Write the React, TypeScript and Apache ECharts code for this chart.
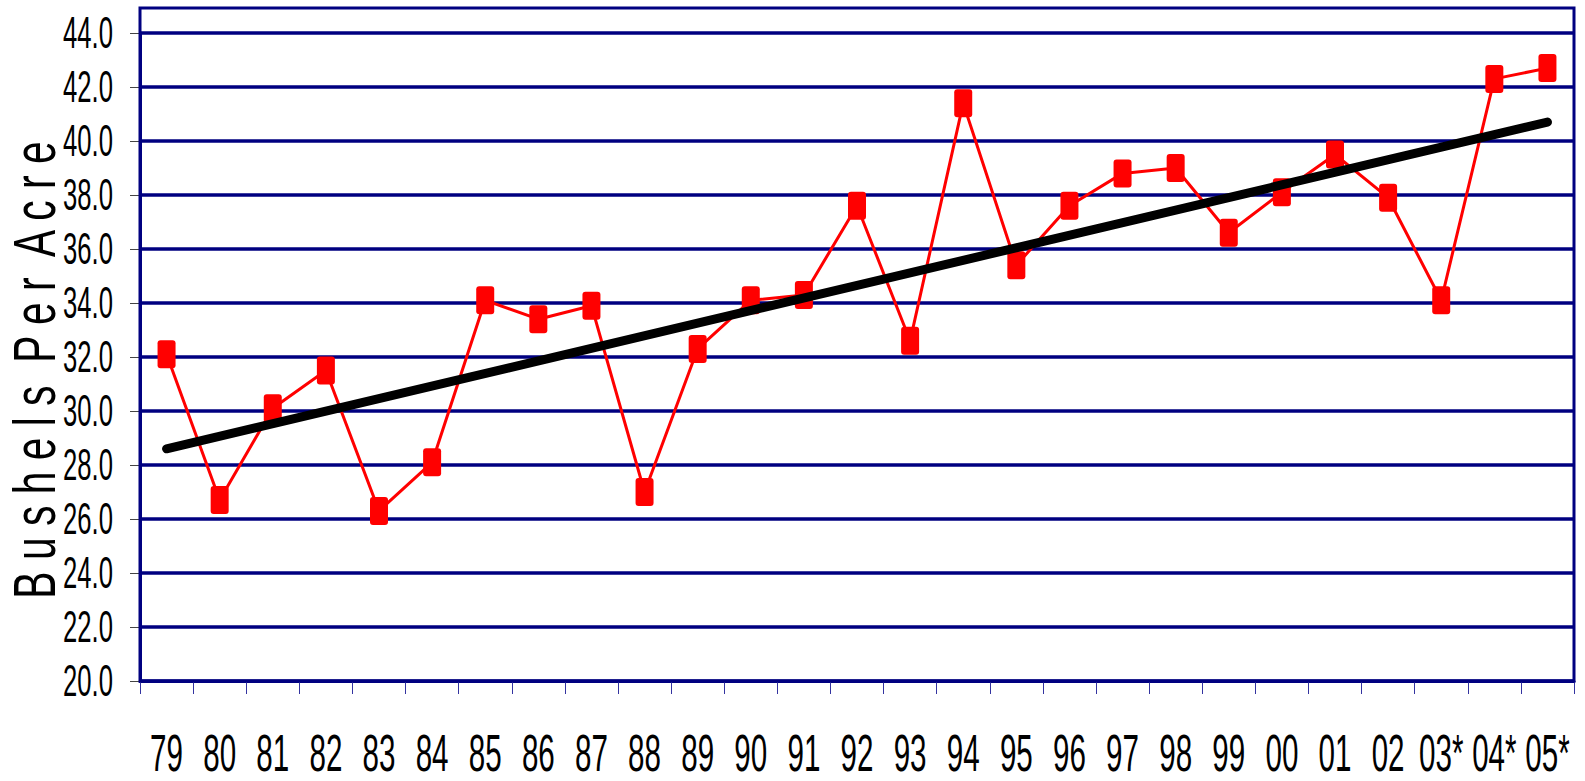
import React, { useEffect, useRef } from 'react';
import * as echarts from 'echarts';

const years = ['79', '80', '81', '82', '83', '84', '85', '86', '87', '88', '89', '90', '91', '92', '93', '94', '95', '96', '97', '98', '99', '00', '01', '02', '03*', '04*', '05*'];
const yields = [32.1, 26.7, 30.1, 31.5, 26.3, 28.1, 34.1, 33.4, 33.9, 27.0, 32.3, 34.1, 34.3, 37.6, 32.6, 41.4, 35.4, 37.6, 38.8, 39.0, 36.6, 38.1, 39.5, 37.9, 34.1, 42.3, 42.7];
const trendValues = [28.6, 40.7];
const yTicks = [20, 22, 24, 26, 28, 30, 32, 34, 36, 38, 40, 42, 44];
const yAxisTitle = 'B u s h e l s  P e r  A c r e';

const NAVY = '#000080';
const FONT = 'Liberation Sans, Arial, sans-serif';
const MARKER = 'path://M3,0 H15 Q18,0 18,3 V25 Q18,28 15,28 H3 Q0,28 0,25 V3 Q0,0 3,0 Z';

export default function App() {
  const ref = useRef<HTMLDivElement>(null);
  useEffect(() => {
    const chart = echarts.init(ref.current!, null, { renderer: 'svg' });
    const gridLeft = 140;
    const gridRight = 11;
    const gridTop = 33;
    const gridBottom = 100;
    chart.setOption({
      animation: false,
      backgroundColor: '#ffffff',
      grid: { left: gridLeft, right: gridRight, top: gridTop, bottom: gridBottom },
      xAxis: {
        type: 'category',
        data: years,
        boundaryGap: true,
        axisLine: { show: true, onZero: false, lineStyle: { color: NAVY, width: 3 } },
        axisTick: { show: true, length: 13, lineStyle: { color: '#3333a0', width: 1 } },
        axisLabel: { show: false },
        splitLine: { show: false },
      },
      yAxis: {
        type: 'value',
        min: 20,
        max: 44,
        interval: 2,
        axisLine: { show: true, lineStyle: { color: NAVY, width: 3 } },
        axisTick: { show: true, length: 10, lineStyle: { color: '#444444', width: 1 } },
        axisLabel: { show: false },
        splitLine: { show: true, lineStyle: { color: NAVY, width: 3.5 } },
      },
      series: [
        {
          type: 'line',
          data: yields,
          symbol: MARKER,
          symbolSize: [18, 28],
          itemStyle: { color: '#ff0000' },
          lineStyle: { color: '#ff0000', width: 3 },
          z: 3,
        },
        {
          type: 'line',
          data: [[years[0], trendValues[0]], [years[years.length - 1], trendValues[1]]],
          symbol: 'none',
          lineStyle: { color: '#000000', width: 9, cap: 'round' },
          z: 4,
        },
      ],
    });

    const W = chart.getWidth();
    const H = chart.getHeight();
    const graphics: any[] = [];
    graphics.push({
      type: 'rect',
      silent: true,
      shape: { x: gridLeft, y: 8, width: W - gridLeft - gridRight, height: H - gridBottom - 8 },
      style: { fill: 'none', stroke: NAVY, lineWidth: 3 },
      z: 1,
    });
    years.forEach((y) => {
      const px = chart.convertToPixel({ xAxisIndex: 0 }, y) as number;
      graphics.push({
        type: 'text',
        silent: true,
        x: px,
        y: 753,
        scaleX: 0.58,
        style: {
          text: y,
          fontSize: 51,
          fontFamily: FONT,
          fill: '#000',
          align: 'center',
          verticalAlign: 'middle',
          textAlign: 'center',
          textVerticalAlign: 'middle',
        },
      });
    });
    yTicks.forEach((v) => {
      const py = chart.convertToPixel({ yAxisIndex: 0 }, v) as number;
      graphics.push({
        type: 'text',
        silent: true,
        x: 113,
        y: py,
        scaleX: 0.57,
        style: {
          text: v.toFixed(1),
          fontSize: 45,
          fontFamily: FONT,
          fill: '#000',
          align: 'right',
          verticalAlign: 'middle',
          textAlign: 'right',
          textVerticalAlign: 'middle',
        },
      });
    });
    graphics.push({
      type: 'text',
      silent: true,
      x: 35,
      y: 370,
      rotation: Math.PI / 2,
      scaleX: 0.68,
      style: {
        text: yAxisTitle,
        fontSize: 60,
        fontFamily: FONT,
        fill: '#000',
        align: 'center',
        verticalAlign: 'middle',
        textAlign: 'center',
        textVerticalAlign: 'middle',
      },
    });
    chart.setOption({ graphic: graphics });
    return () => chart.dispose();
  }, []);
  return (
    <div
      ref={ref}
      style={{ position: 'fixed', left: 0, top: 0, width: 1585, height: 781, background: '#fff' }}
    />
  );
}
